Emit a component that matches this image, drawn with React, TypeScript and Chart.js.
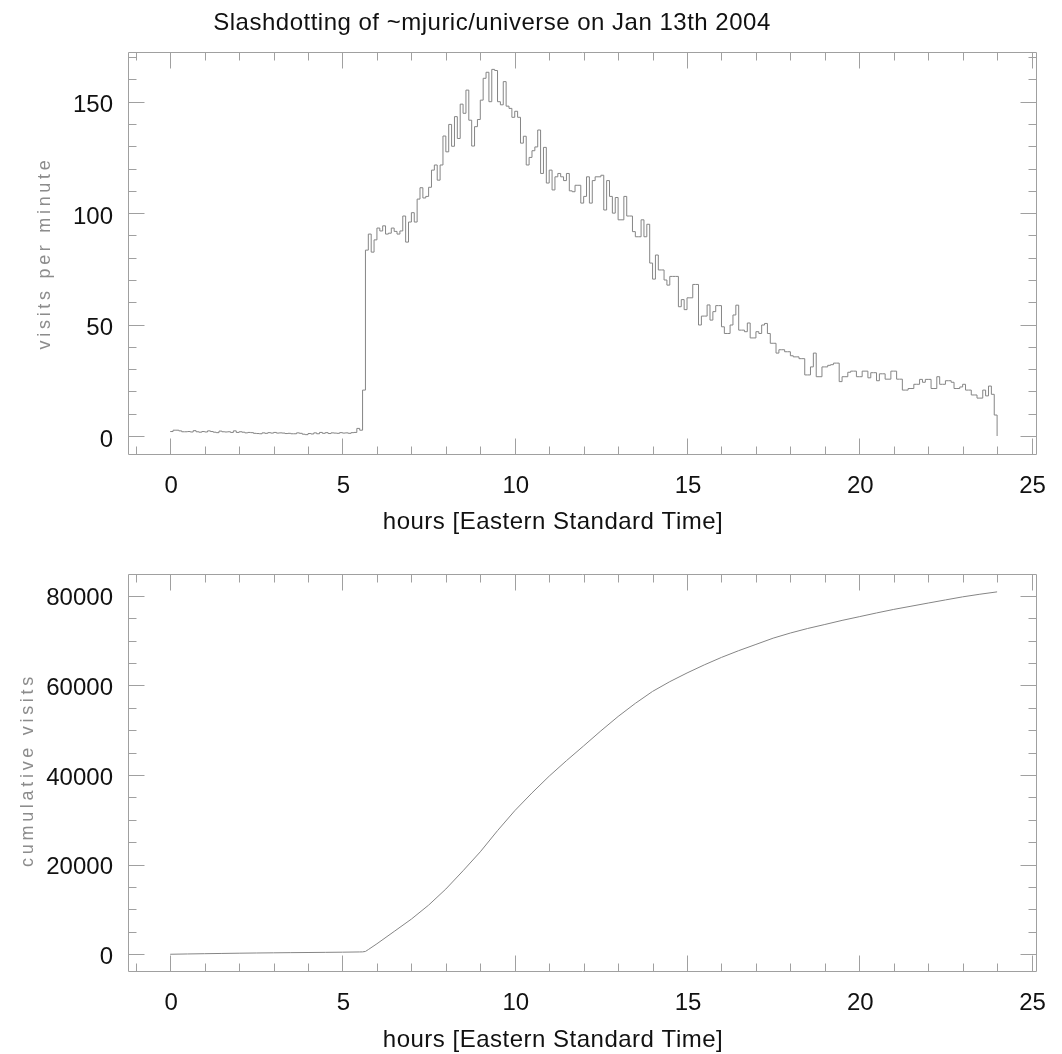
import React, { useEffect, useRef } from "react";
import { Chart, registerables } from "chart.js";

Chart.register(...registerables);

// ---------- texts ----------
const TITLE = "Slashdotting of ~mjuric/universe on Jan 13th 2004";
const X_TITLE = "hours [Eastern Standard Time]";
const Y_TITLE_TOP = "visits per minute";
const Y_TITLE_BOTTOM = "cumulative visits";

// ---------- data: visits per minute in 5-minute bins, one array per hour ----------
const BIN_MINUTES = 5;
const visitsH00 = [2.0, 2.6, 2.6, 2.3, 1.9, 1.9, 2.0, 1.8, 2.4, 1.9, 1.7, 2.0];
const visitsH01 = [1.8, 2.3, 2.0, 1.7, 1.5, 2.2, 1.9, 1.8, 1.9, 1.6, 2.3, 1.6];
const visitsH02 = [1.9, 1.7, 1.4, 1.6, 1.5, 1.2, 1.1, 1.0, 1.4, 1.2, 1.5, 1.3];
const visitsH03 = [1.6, 1.3, 1.4, 1.3, 1.1, 1.2, 1.0, 1.0, 1.4, 1.2, 0.8, 0.6];
const visitsH04 = [1.1, 0.9, 1.4, 1.0, 1.6, 1.2, 1.5, 1.1, 1.4, 1.3, 1.2, 1.5];
const visitsH05 = [1.3, 1.4, 1.2, 1.5, 1.6, 3.4, 2.6, 20.6, 83.4, 90.6, 82.5, 88.0];
const visitsH06 = [93.3, 92.0, 94.3, 90.6, 91.0, 93.3, 91.8, 90.6, 92.0, 98.7, 87.0, 96.0];
const visitsH07 = [100.2, 96.0, 106.3, 111.4, 106.8, 107.5, 111.6, 119.3, 121.6, 114.8, 121.6, 134.6];
const visitsH08 = [127.5, 139.8, 130.0, 143.3, 133.5, 148.9, 144.8, 155.2, 141.7, 130.1, 138.8, 142.0];
const visitsH09 = [150.7, 160.5, 163.2, 150.0, 164.5, 164.0, 150.0, 148.6, 159.0, 148.0, 147.0, 143.0];
const visitsH10 = [145.7, 143.0, 131.4, 134.5, 121.6, 125.0, 128.0, 129.7, 137.3, 117.8, 129.5, 113.5];
const visitsH11 = [119.3, 110.4, 116.3, 117.8, 116.3, 114.6, 117.8, 110.0, 109.6, 112.5, 112.5, 104.5];
const visitsH12 = [107.5, 116.3, 104.5, 114.6, 116.3, 116.3, 117.0, 101.4, 114.6, 107.5, 100.0, 107.0];
const visitsH13 = [97.0, 97.0, 107.5, 98.7, 98.7, 91.7, 89.4, 89.4, 97.0, 89.4, 95.0, 77.6];
const visitsH14 = [70.4, 81.2, 74.5, 74.5, 70.0, 67.7, 71.6, 71.6, 71.6, 58.0, 61.2, 56.7];
const visitsH15 = [62.0, 62.0, 68.0, 68.0, 49.8, 53.8, 53.8, 58.8, 52.0, 55.8, 58.5, 58.5];
const visitsH16 = [49.0, 46.0, 46.0, 49.8, 54.3, 58.7, 47.5, 47.5, 46.8, 50.7, 44.0, 44.0];
const visitsH17 = [46.8, 46.0, 49.8, 50.5, 46.0, 41.6, 41.6, 37.2, 38.7, 38.7, 37.8, 37.8];
const visitsH18 = [36.0, 35.5, 35.5, 34.7, 34.7, 27.4, 27.4, 31.0, 37.2, 26.6, 26.6, 31.0];
const visitsH19 = [31.0, 31.7, 32.0, 32.7, 32.7, 24.4, 26.6, 26.6, 28.6, 29.1, 29.1, 26.6];
const visitsH20 = [26.6, 29.1, 29.1, 26.1, 28.4, 28.4, 24.8, 27.9, 27.9, 25.5, 25.5, 29.1];
const visitsH21 = [29.1, 25.5, 25.5, 20.6, 20.6, 21.3, 21.3, 23.2, 23.2, 25.4, 24.1, 25.4];
const visitsH22 = [25.4, 21.3, 21.3, 26.6, 23.2, 23.2, 24.8, 24.8, 24.1, 21.3, 21.3, 22.0];
const visitsH23 = [23.2, 20.6, 20.6, 18.4, 18.4, 17.0, 17.0, 20.6, 18.0, 22.4, 18.7, 9.4];
const END_HOUR = 24;

// ---------- data: cumulative visits ----------
const cumHours = [
  0, 0.5, 1, 1.5, 2, 2.5, 3, 3.5, 4, 4.5, 5, 5.5, 5.583, 5.667, 5.75, 6,
  6.5, 7, 7.5, 8, 8.5, 9, 9.5, 10, 10.5, 11, 11.5, 12, 12.5, 13, 13.5, 14,
  14.5, 15, 15.5, 16, 16.5, 17, 17.5, 18, 18.5, 19, 19.5, 20, 20.5, 21, 21.5,
  22, 22.5, 23, 23.5, 24,
];
const cumVisits = [
  0, 66, 125, 182, 237, 283, 320, 359, 389, 425, 464, 516, 529, 631, 1045, 2340,
  5090, 7848, 10964, 14553, 18635, 22864, 27590, 32032, 36006, 39755, 43201, 46508,
  49859, 53071, 56000, 58667, 60841, 62779, 64583, 66256, 67763, 69154, 70547,
  71696, 72707, 73599, 74514, 75340, 76172, 76969, 77677, 78384, 79083, 79769,
  80355, 80882,
];

// ---------- axes ----------
const xTicks = [0, 5, 10, 15, 20, 25];
const xMinorStep = 1;
const X_MIN = -1.225;
const X_MAX = 25.172;
const topYTicks = [0, 50, 100, 150];
const topYMinorStep = 10;
const TOP_Y_MIN = -8.53;
const TOP_Y_MAX = 172.3;
const bottomYTicks = [0, 20000, 40000, 60000, 80000];
const bottomYMinorStep = 5000;
const BOTTOM_Y_MIN = -3960;
const BOTTOM_Y_MAX = 84780;

// ---------- styles ----------
const FONT = "'Liberation Sans', Arial, Helvetica, sans-serif";
const FRAME_COLOR = "#a0a0a0";
const LINE_COLOR = "#858585";
const TEXT_COLOR = "#111111";
const YTITLE_COLOR = "#8c8c8c";
const W = 1062;
const TOP_H = 545;
const BOTTOM_H = 509;

type TextItem = {
  text: string;
  x: number;
  y: number;
  size: number;
  color: string;
  rotate?: boolean;
  spacing?: string;
};

function makeFramePlugin(xStep: number, yStep: number, texts: TextItem[]) {
  return {
    id: "frameAndTexts",
    afterDraw(chart: any) {
      const { ctx, chartArea: a } = chart;
      const xs = chart.scales.x;
      const ys = chart.scales.y;
      const L = Math.round(a.left) + 0.5;
      const R = Math.round(a.right) - 0.5;
      const T = Math.round(a.top) + 0.5;
      const B = Math.round(a.bottom) - 0.5;
      ctx.save();
      ctx.strokeStyle = FRAME_COLOR;
      ctx.lineWidth = 1;
      ctx.beginPath();
      ctx.rect(L, T, R - L, B - T);
      const xMajors = xs.ticks.map((t: any) => t.value);
      const yMajors = ys.ticks.map((t: any) => t.value);
      const isMajor = (arr: number[], v: number) => arr.some((m) => Math.abs(m - v) < 1e-6);
      const kx0 = Math.ceil(xs.min / xStep);
      const kx1 = Math.floor(xs.max / xStep);
      for (let k = kx0; k <= kx1; k++) {
        const v = k * xStep;
        const len = isMajor(xMajors, v) ? 16 : 8;
        const p = Math.round(xs.getPixelForValue(v)) + 0.5;
        ctx.moveTo(p, B);
        ctx.lineTo(p, B - len);
        ctx.moveTo(p, T);
        ctx.lineTo(p, T + len);
      }
      const ky0 = Math.ceil(ys.min / yStep);
      const ky1 = Math.floor(ys.max / yStep);
      for (let k = ky0; k <= ky1; k++) {
        const v = k * yStep;
        const len = isMajor(yMajors, v) ? 16 : 8;
        const p = Math.round(ys.getPixelForValue(v)) + 0.5;
        ctx.moveTo(L, p);
        ctx.lineTo(L + len, p);
        ctx.moveTo(R, p);
        ctx.lineTo(R - len, p);
      }
      ctx.stroke();
      ctx.restore();

      for (const t of texts) {
        ctx.save();
        ctx.font = `${t.size}px ${FONT}`;
        ctx.fillStyle = t.color;
        (ctx as any).letterSpacing = t.spacing || "0px";
        ctx.textAlign = "center";
        ctx.textBaseline = "alphabetic";
        ctx.translate(t.x, t.y);
        if (t.rotate) ctx.rotate(-Math.PI / 2);
        ctx.fillText(t.text, 0, 0);
        ctx.restore();
      }
    },
  };
}

function makeOptions(
  yMin: number,
  yMax: number,
  yTicks: number[],
  xHeight: number,
  padTop: number,
  yLabelOffset: number
): any {
  return {
    responsive: false,
    animation: false,
    events: [],
    layout: { padding: { top: padTop, right: 14, left: 0, bottom: 0 } },
    plugins: {
      legend: { display: false },
      title: { display: false },
      tooltip: { enabled: false },
    },
    scales: {
      x: {
        type: "linear",
        min: X_MIN,
        max: X_MAX,
        grid: { display: false, drawTicks: false, tickLength: 0 },
        border: { display: false },
        afterBuildTicks: (s: any) => {
          s.ticks = xTicks.map((v) => ({ value: v }));
        },
        afterFit: (s: any) => {
          s.height = xHeight;
        },
        ticks: {
          autoSkip: false,
          maxRotation: 0,
          padding: 17,
          labelOffset: 1,
          color: TEXT_COLOR,
          font: { family: FONT, size: 24 },
          callback: (v: any) => String(v),
        },
      },
      y: {
        type: "linear",
        min: yMin,
        max: yMax,
        grid: { display: false, drawTicks: false, tickLength: 0 },
        border: { display: false },
        afterBuildTicks: (s: any) => {
          s.ticks = yTicks.map((v) => ({ value: v }));
        },
        afterFit: (s: any) => {
          s.width = 128;
        },
        ticks: {
          autoSkip: false,
          padding: 15,
          labelOffset: yLabelOffset,
          color: TEXT_COLOR,
          font: { family: FONT, size: 24 },
          callback: (v: any) => String(v),
        },
      },
    },
  };
}

export default function App() {
  const topRef = useRef<HTMLCanvasElement | null>(null);
  const bottomRef = useRef<HTMLCanvasElement | null>(null);

  useEffect(() => {
    const visits = [
      ...visitsH00, ...visitsH01, ...visitsH02, ...visitsH03, ...visitsH04, ...visitsH05,
      ...visitsH06, ...visitsH07, ...visitsH08, ...visitsH09, ...visitsH10, ...visitsH11,
      ...visitsH12, ...visitsH13, ...visitsH14, ...visitsH15, ...visitsH16, ...visitsH17,
      ...visitsH18, ...visitsH19, ...visitsH20, ...visitsH21, ...visitsH22, ...visitsH23,
    ];
    const histPoints = visits.map((v, i) => ({ x: (i * BIN_MINUTES) / 60, y: v }));
    histPoints.push({ x: END_HOUR, y: 0 });
    const cumPoints = cumHours.map((h, i) => ({ x: h, y: cumVisits[i] }));

    const topChart = new Chart(topRef.current as HTMLCanvasElement, {
      type: "line",
      data: {
        datasets: [
          {
            data: histPoints,
            stepped: "before",
            borderColor: LINE_COLOR,
            borderWidth: 1,
            pointRadius: 0,
            fill: false,
          },
        ],
      },
      options: makeOptions(TOP_Y_MIN, TOP_Y_MAX, topYTicks, TOP_H - 455, 52, 4),
      plugins: [
        makeFramePlugin(xMinorStep, topYMinorStep, [
          { text: TITLE, x: 492, y: 30, size: 24, color: TEXT_COLOR, spacing: "0.5px" },
          { text: X_TITLE, x: 553, y: 529, size: 24, color: TEXT_COLOR, spacing: "0.5px" },
          { text: Y_TITLE_TOP, x: 49.5, y: 253, size: 18, color: YTITLE_COLOR, rotate: true, spacing: "3.7px" },
        ]),
      ],
    } as any);

    const bottomChart = new Chart(bottomRef.current as HTMLCanvasElement, {
      type: "line",
      data: {
        datasets: [
          {
            data: cumPoints,
            borderColor: LINE_COLOR,
            borderWidth: 1,
            pointRadius: 0,
            tension: 0,
            fill: false,
          },
        ],
      },
      options: makeOptions(BOTTOM_Y_MIN, BOTTOM_Y_MAX, bottomYTicks, BOTTOM_H - 427, 24, 3),
      plugins: [
        makeFramePlugin(xMinorStep, bottomYMinorStep, [
          { text: X_TITLE, x: 553, y: 502, size: 24, color: TEXT_COLOR, spacing: "0.5px" },
          { text: Y_TITLE_BOTTOM, x: 33, y: 225, size: 18, color: YTITLE_COLOR, rotate: true, spacing: "3.7px" },
        ]),
      ],
    } as any);

    return () => {
      topChart.destroy();
      bottomChart.destroy();
    };
  }, []);

  return (
    <div style={{ position: "absolute", left: 0, top: 0, width: W, height: TOP_H + BOTTOM_H, background: "#ffffff" }}>
      <canvas
        ref={topRef}
        width={W}
        height={TOP_H}
        style={{ position: "absolute", left: 0, top: 0, width: W, height: TOP_H }}
      />
      <canvas
        ref={bottomRef}
        width={W}
        height={BOTTOM_H}
        style={{ position: "absolute", left: 0, top: TOP_H, width: W, height: BOTTOM_H }}
      />
    </div>
  );
}
